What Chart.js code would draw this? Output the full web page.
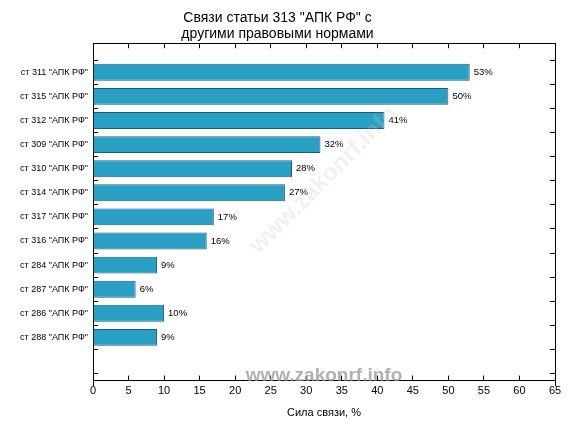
<!DOCTYPE html>
<html><head><meta charset="utf-8">
<script src="https://cdn.jsdelivr.net/npm/chart.js@4/dist/chart.umd.min.js"></script>
<style>body{margin:0;background:#fff}#w{width:576px;height:432px}</style>
</head><body><div id="w"><canvas id="c"></canvas></div>
<script>
const categories = ['ст 311 "АПК РФ"','ст 315 "АПК РФ"','ст 312 "АПК РФ"','ст 309 "АПК РФ"','ст 310 "АПК РФ"','ст 314 "АПК РФ"','ст 317 "АПК РФ"','ст 316 "АПК РФ"','ст 284 "АПК РФ"','ст 287 "АПК РФ"','ст 286 "АПК РФ"','ст 288 "АПК РФ"'];
const values = [53,50,41,32,28,27,17,16,9,6,10,9];
const xTicks = [0,5,10,15,20,25,30,35,40,45,50,55,60,65];

const labels = [''].concat(categories, ['','']);
const data = [null].concat(values, [null,null]);
const font = {family:'Liberation Sans, Arial', size:11};

const valPlugin = {id:'vals', afterDatasetsDraw(ch){
  const ctx = ch.ctx, meta = ch.getDatasetMeta(0);
  ctx.save(); ctx.font = '9.5px Liberation Sans, Arial'; ctx.fillStyle='#000'; ctx.textBaseline='middle';
  meta.data.forEach((b,i)=>{ if(data[i]==null) return; ctx.fillText(data[i]+'%', b.x+4, b.y); });
  ctx.font='bold 19px Liberation Sans, Arial'; ctx.fillStyle='rgba(150,150,150,0.75)'; ctx.textAlign='center';
  ctx.fillText('www.zakonrf.info', 324, 376);
  ctx.translate(324,180); ctx.rotate(-Math.PI/4); ctx.fillStyle='rgba(200,200,200,0.25)';
  ctx.font='bold 24px Liberation Sans, Arial'; ctx.fillText('www.zakonrf.info',0,0);
  ctx.restore();
}};

new Chart(document.getElementById('c'), {
  type:'bar',
  data:{labels, datasets:[{data, backgroundColor:'#2a9fc4', borderColor:'#1a5f78', borderWidth:1, barPercentage:0.7, categoryPercentage:1}]},
  options:{indexAxis:'y', responsive:true, maintainAspectRatio:false, animation:false,
    layout:{padding:{left:0,right:21,top:0,bottom:3}},
    plugins:{legend:{display:false}, tooltip:{enabled:false},
      title:{display:true, text:['Связи статьи 313 "АПК РФ" с','другими правовыми нормами'], color:'#000', font:{family:'Liberation Sans, Arial', size:14, weight:'normal', lineHeight:1.15}, padding:{top:10,bottom:6}}},
    scales:{
      x:{type:'linear', min:0, max:65, afterBuildTicks(s){s.ticks=xTicks.map(v=>({value:v}));},
        ticks:{color:'#000', font, padding:9, maxRotation:0},
        grid:{drawOnChartArea:false, tickLength:-5, color:'#000'}, border:{color:'#000'},
        title:{display:true, text:'Сила связи, %', color:'#000', font, padding:{top:0}}},
      y:{type:'category', offset:false, afterFit(s){s.width=93;},
        ticks:{color:'#000', font:{family:'Liberation Sans, Arial', size:9}, padding:10, autoSkip:false},
        grid:{drawOnChartArea:false, tickLength:-5, color:'#000'}, border:{color:'#000'}},
      x2:{position:'top', min:0, max:65, afterBuildTicks(s){s.ticks=xTicks.map(v=>({value:v}));}, ticks:{display:false}, grid:{drawOnChartArea:false, tickLength:-5, color:'#000'}, border:{color:'#000'}},
      y2:{position:'right', type:'category', labels, offset:false, ticks:{display:false}, grid:{drawOnChartArea:false, tickLength:-5, color:'#000'}, border:{color:'#000'}}
    }
  },
  plugins:[valPlugin]
});
</script></body></html>
